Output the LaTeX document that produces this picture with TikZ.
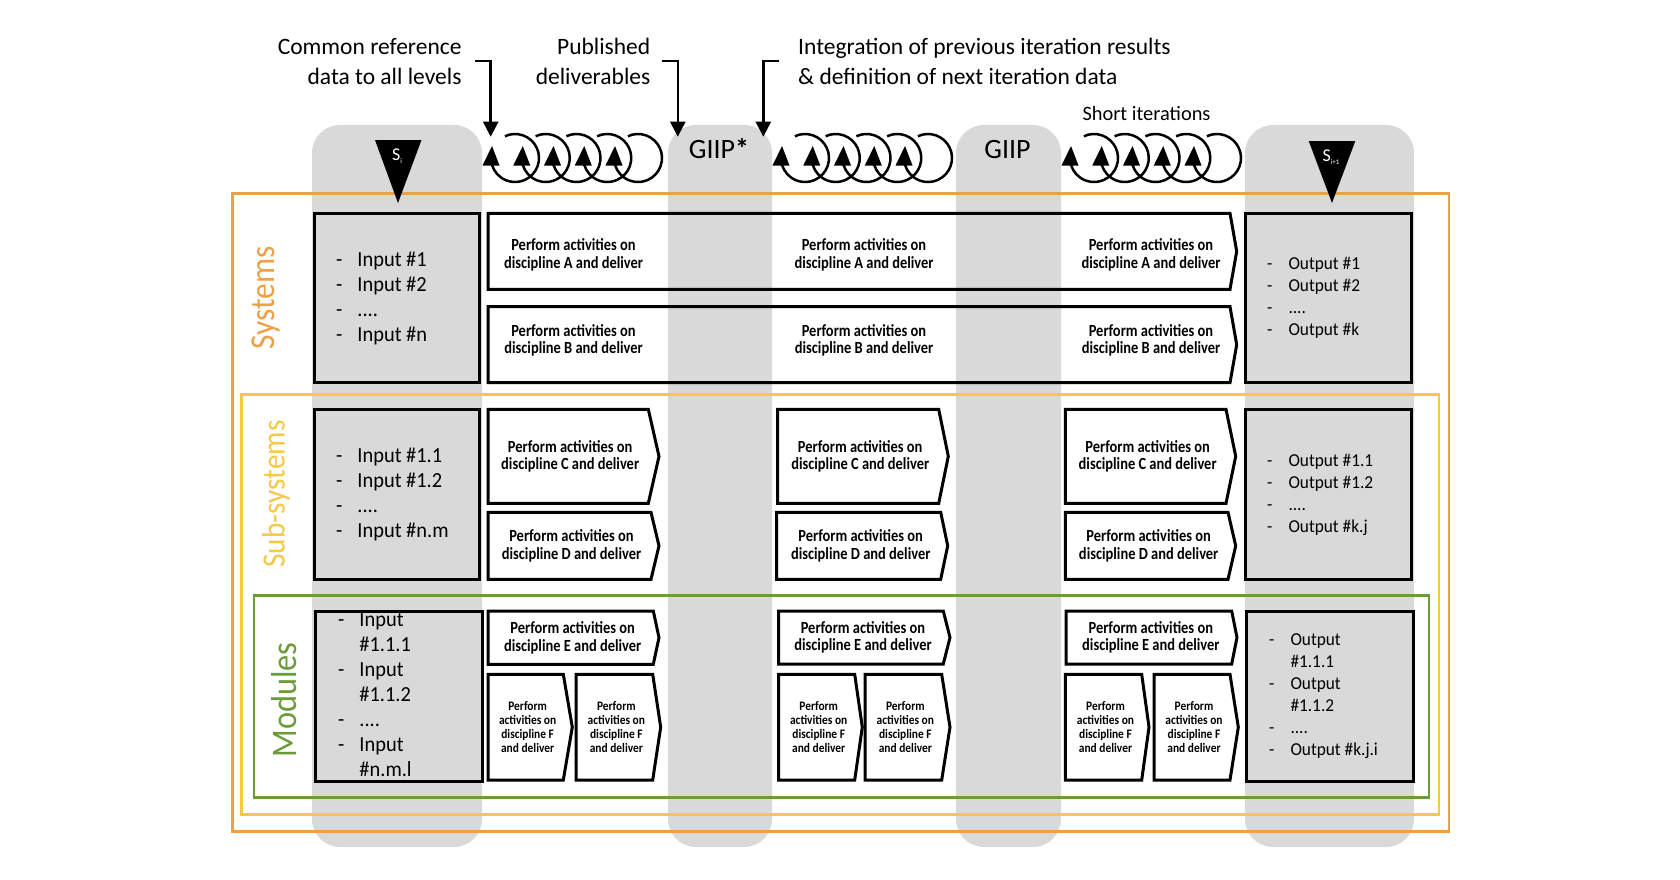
\documentclass[tikz,border=0pt]{standalone}
\usepackage{fontspec}
\setmainfont{Carlito}
\newfontfamily\actfont{Carlito}[FakeStretch=0.85]
\newfontfamily\ffont{Carlito}[FakeStretch=0.88]
\newfontfamily\listfont{Carlito}[FakeStretch=0.95]
\newfontfamily\lvlfont{Carlito}[FakeStretch=0.9]
\usetikzlibrary{arrows.meta}
\definecolor{colgray}{RGB}{217,217,217}
\definecolor{sysorange}{RGB}{237,160,70}
\definecolor{subyellow}{RGB}{245,200,70}
\definecolor{modgreen}{RGB}{107,155,58}
\newcommand\actbox[8]{%
  \draw[actline] (#2,#3) -- (#4,#3) -- (#6,{(#3+#5)/2}) -- (#4,#5) -- (#2,#5) -- cycle;
  \node[#7] (#1) at ({(#2+#4)/2+2},{(#3+#5)/2}) {#8};}
\newcommand\coilrow[1]{%
  \foreach \k in {0,...,4}{%
    \pgfmathsetmacro\cx{#1+24+\k*30.75}
    \draw[coilline] ({\cx+24*cos(245)},{158+24*sin(245)}) arc[start angle=245,end angle=535,radius=24];
    \fill ({\cx-24-8.5},165.5) -- ({\cx-23},146) -- ({\cx-24+8.5},165.5) -- cycle;}}
\newcommand\ptext{Perform activities on\\discipline}
\newcommand\ftext[1]{Perform\\activities on\\discipline #1\\and deliver}
\begin{document}
\begin{tikzpicture}[x=1pt,y=-1pt,
  colbg/.style={fill=colgray, rounded corners=28pt},
  lvl/.style={line width=2.6pt},
  iobox/.style={draw, line width=3pt, fill=colgray},
  actline/.style={draw, line width=3pt, line join=miter},
  acttext/.style={font=\actfont\fontsize{17}{17.5}\selectfont\bfseries, align=center, inner sep=0pt},
  ftxt/.style={font=\ffont\fontsize{13}{14}\selectfont\bfseries, align=center, inner sep=0pt},
  inlist/.style={font=\listfont\fontsize{21.5}{25}\selectfont, anchor=west, inner sep=0pt},
  outlist/.style={font=\listfont\fontsize{18.2}{22}\selectfont, anchor=west, inner sep=0pt},
  toplabel/.style={font=\fontsize{23.5}{30}\selectfont, inner sep=0pt},
  lvltext/.style={rotate=90, inner sep=0pt},
  coilline/.style={line width=2.5pt},
  bracket/.style={line width=2.5pt, -{Triangle[length=15pt,width=15pt]}}]
\useasboundingbox (0,0) rectangle (1680,880);
\fill[white] (0,0) rectangle (1680,880);
% gray columns
\fill[colbg] (312,125) rectangle (482,847);
\fill[colbg] (668,125) rectangle (772,847);
\fill[colbg] (956,125) rectangle (1061,847);
\fill[colbg] (1245,125) rectangle (1414,847);
% level frames
\draw[lvl, sysorange] (232.3,193.3) rectangle (1449,831.3);
\draw[lvl, subyellow] (241.7,394.3) rectangle (1439,814.3);
\draw[lvl, modgreen] (254,595.3) rectangle (1429,797.3);
% level labels
\node[lvltext, text=sysorange, font=\lvlfont\fontsize{35}{38}\selectfont] (lsys) at (266,298) {Systems};
\node[lvltext, text=subyellow, font=\lvlfont\fontsize{32.5}{36}\selectfont] (lsub) at (276,494) {Sub-systems};
\node[lvltext, text=modgreen, font=\lvlfont\fontsize{36}{38}\selectfont] (lmod) at (284,700) {Modules};
% input / output boxes
\draw[iobox] (314,213) rectangle (479.3,382);
\draw[iobox] (314,409.3) rectangle (479.3,579.3);
\draw[iobox] (315,611) rectangle (482,781.3);
\draw[iobox] (1245,213) rectangle (1411,382.7);
\draw[iobox] (1245,409.3) rectangle (1411,579.3);
\draw[iobox] (1246.7,611) rectangle (1413.3,781.3);
\node[inlist] (insys) at (336,298.5) {\begin{tabular}{@{}l@{\hspace{15pt}}l@{}}-&Input \#1\\-&Input \#2\\-&....\\-&Input \#n\end{tabular}};
\node[inlist] (insub) at (336,494.5) {\begin{tabular}{@{}l@{\hspace{15pt}}l@{}}-&Input \#1.1\\-&Input \#1.2\\-&....\\-&Input \#n.m\end{tabular}};
\node[inlist] (inmod) at (338,696.5) {\begin{tabular}{@{}l@{\hspace{15pt}}l@{}}-&Input\\&\#1.1.1\\-&Input\\&\#1.1.2\\-&....\\-&Input\\&\#n.m.l\end{tabular}};
\node[outlist] (outsys) at (1267,298) {\begin{tabular}{@{}l@{\hspace{16pt}}l@{}}-&Output \#1\\-&Output \#2\\-&....\\-&Output \#k\end{tabular}};
\node[outlist] (outsub) at (1267,495) {\begin{tabular}{@{}l@{\hspace{16pt}}l@{}}-&Output \#1.1\\-&Output \#1.2\\-&....\\-&Output \#k.j\end{tabular}};
\node[outlist] (outmod) at (1269,696) {\begin{tabular}{@{}l@{\hspace{16pt}}l@{}}-&Output\\&\#1.1.1\\-&Output\\&\#1.1.2\\-&....\\-&Output \#k.j.i\end{tabular}};
% systems row (long boxes)
\draw[actline] (488,213.3) -- (1230,213.3) -- (1236.7,251.3) -- (1230,289.3) -- (488,289.3) -- cycle;
\draw[actline] (488,306.7) -- (1230,306.7) -- (1236.7,344.7) -- (1230,382.7) -- (488,382.7) -- cycle;
\node[acttext] (a1) at (573.5,255) {\ptext{} A and deliver};
\node[acttext] (a2) at (864,255) {\ptext{} A and deliver};
\node[acttext] (a3) at (1151,255) {\ptext{} A and deliver};
\node[acttext] (b1) at (573.5,340.5) {\ptext{} B and deliver};
\node[acttext] (b2) at (864,340.5) {\ptext{} B and deliver};
\node[acttext] (b3) at (1151,340.5) {\ptext{} B and deliver};
% sub-systems row
\actbox{c1}{488}{409.3}{648.3}{503.3}{659}{acttext}{\ptext{} C and deliver}
\actbox{d1}{488}{512.3}{651}{579.3}{659}{acttext}{\ptext{} D and deliver}
\actbox{c2}{777.7}{409.3}{938.7}{503.3}{948.3}{acttext}{\ptext{} C and deliver}
\actbox{d2}{776.7}{512.3}{940.7}{579.3}{947.7}{acttext}{\ptext{} D and deliver}
\actbox{c3}{1065.3}{409.3}{1226}{503.3}{1235.7}{acttext}{\ptext{} C and deliver}
\actbox{d3}{1065.3}{512.3}{1228}{579.3}{1235.7}{acttext}{\ptext{} D and deliver}
% modules row
\actbox{e1}{488}{611}{653.3}{664.3}{659}{acttext}{\ptext{} E and deliver}
\actbox{f1a}{488}{674.3}{563.3}{780}{572.3}{ftxt}{\ftext{F}}
\actbox{f1b}{576}{674.3}{652.7}{780}{660.7}{ftxt}{\ftext{F}}
\actbox{e2}{778.7}{611}{943.3}{664}{950}{acttext}{\ptext{} E and deliver}
\actbox{f2a}{778.7}{674.3}{854.7}{780}{862.3}{ftxt}{\ftext{F}}
\actbox{f2b}{865}{674.3}{941.7}{780}{950}{ftxt}{\ftext{F}}
\actbox{e3}{1066}{611}{1231.7}{664}{1237}{acttext}{\ptext{} E and deliver}
\actbox{f3a}{1065.3}{674.3}{1141.7}{780}{1149}{ftxt}{\ftext{F}}
\actbox{f3b}{1154}{674.3}{1230}{780}{1238.3}{ftxt}{\ftext{F}}
% triangles
\fill (375,140) -- (421.5,140) -- (398,203) -- cycle;
\node[text=white, font=\fontsize{18}{20}\selectfont, inner sep=0pt] (si) at (397,156) {S\raisebox{-3pt}{\fontsize{7}{8}\selectfont i}};
\fill (1308.7,141) -- (1355.3,141) -- (1332,203) -- cycle;
\node[text=white, font=\fontsize{18}{20}\selectfont, inner sep=0pt] (si1) at (1331,157) {S\raisebox{-3pt}{\fontsize{7}{8}\selectfont i+1}};
% GIIP labels
\node[font=\fontsize{28}{30}\selectfont, inner sep=0pt, anchor=base] (giip1) at (719,158) {GIIP\textbf{*}};
\node[font=\fontsize{28}{30}\selectfont, inner sep=0pt, anchor=base] (giip2) at (1007.5,158) {GIIP};
% top labels
\node[toplabel, align=right, anchor=east] (lbl1) at (461.7,61.7) {Common reference\\data to all levels};
\node[toplabel, align=right, anchor=east] (lbl2) at (650.5,61.7) {Published\\deliverables};
\node[toplabel, align=left, anchor=west] (lbl3) at (798,61.7) {Integration of previous iteration results\\\& definition of next iteration data};
\node[font=\fontsize{20.4}{24}\selectfont, anchor=west, inner sep=0pt] (lbl4) at (1082.3,113.3) {Short iterations};
% bracket arrows
\coordinate (b1s) at (475,61);
\coordinate (b1e) at (490.7,136.7);
\coordinate (b2s) at (661.5,61);
\coordinate (b2e) at (677.8,136.7);
\coordinate (b3s) at (779.4,61);
\coordinate (b3e) at (763.3,136.7);
\draw[bracket] (b1s) -| (b1e);
\draw[bracket] (b2s) -| (b2e);
\draw[bracket] (b3s) -| (b3e);
% coils
\coilrow{491}
\coilrow{781}
\coilrow{1070}
\end{tikzpicture}
\end{document}
